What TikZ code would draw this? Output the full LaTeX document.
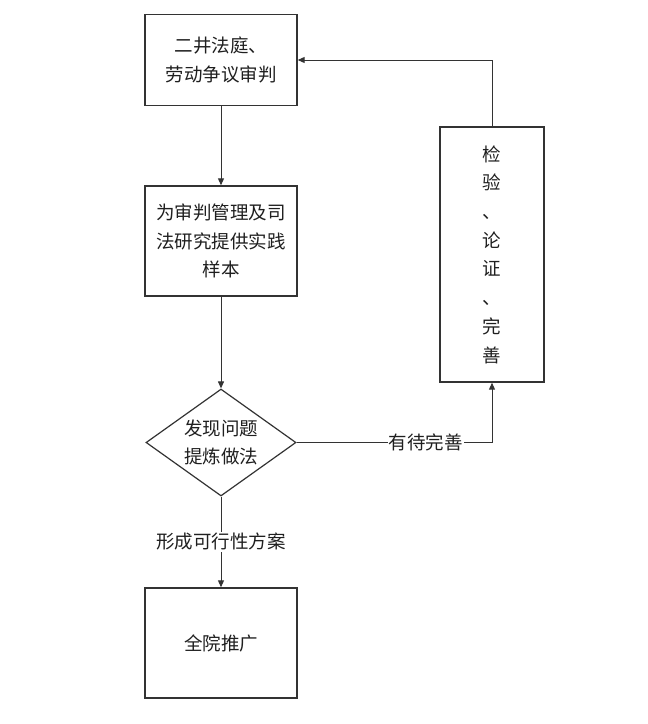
\documentclass[tikz,border=0pt]{standalone}
\usepackage{fontspec}
\newfontfamily\cjk{Noto Sans CJK SC}
\usetikzlibrary{arrows.meta,shapes.geometric,positioning}
\definecolor{linegray}{rgb}{0.2,0.2,0.2}
\definecolor{textgray}{rgb}{0.12,0.12,0.12}
\tikzstyle{box} = [rectangle, draw=linegray, line width=1.4pt, minimum width=152pt, text centered, align=center, text=textgray, font=\cjk\fontsize{18.5}{28.5}\selectfont]
\tikzstyle{decision} = [diamond, draw=linegray, line width=1.2pt, minimum width=150pt, minimum height=107pt, shape aspect=1.4, inner sep=0pt, align=center, text=textgray, font=\cjk\fontsize{18.5}{28.5}\selectfont]
\tikzstyle{arrow} = [line width=1pt, draw=linegray, -{Triangle[length=7pt,width=6pt]}]
\tikzstyle{lbl} = [fill=white, inner sep=1pt, text=textgray, font=\cjk\fontsize{18.5}{22}\selectfont]

\begin{document}
\begin{tikzpicture}[x=1pt,y=-1pt]
\useasboundingbox[fill=white] (0,0) rectangle (648,724);
\node (trial) at (221,60) [box, minimum height=91pt] {二井法庭、\\劳动争议审判};
\node (sample) at (221,241) [box, minimum height=110pt] {为审判管理及司\\法研究提供实践\\样本};
\node (issue) at (221,442.5) [decision] {发现问题\\提炼做法};
\node (promote) at (221,643) [box, minimum height=110pt] {全院推广};
\node (check) at (492,254.5) [box, minimum width=104pt, minimum height=255pt, font=\cjk\fontsize{18.5}{28.7}\selectfont] {检\\验\\、\\论\\证\\、\\完\\善};
\draw[arrow] (trial)--(sample);
\draw[arrow] (sample)--(issue);
\draw[arrow] (issue)--(promote) node[lbl, midway] {形成可行性方案};
\draw[arrow] (issue) -| (check) node[lbl, pos=0.33] {有待完善};
\draw[arrow] (check) |- (trial);
\end{tikzpicture}
\end{document}
